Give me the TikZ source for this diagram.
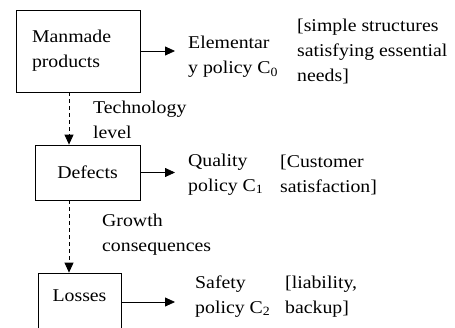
\documentclass[tikz,border=0pt]{standalone}
\usepackage{fontspec}
\setmainfont{Liberation Serif}[FakeStretch=1.1]
\usetikzlibrary{arrows.meta}

\begin{document}
\begin{tikzpicture}[x=1pt,y=-1pt,>={Triangle[length=10pt,width=9pt]},
  box/.style={draw,line width=0.8pt,align=left},
  txt/.style={anchor=west,inner sep=0pt,align=left},
  every node/.style={font=\fontsize{18}{25}\selectfont},
  link/.style={->,line width=0.8pt},
  dashlink/.style={->,line width=0.8pt,dash pattern=on 4pt off 3pt}]

\clip (0,0) rectangle (455,327);

\node[box, minimum height=82pt, inner xsep=16pt, text width=92pt] (manmade) at (78,51) {Manmade\\products};
\node[box, minimum width=105pt, minimum height=55pt] (defects) at (87.5,172.5) {Defects};
\node[box, minimum width=83pt, minimum height=58pt, text depth=12pt] (losses) at (79.5,302) {Losses};
\coordinate (axis) at (69,0);

\node[txt] (elem) at (188,57) {Elementar\\y policy C\textsubscript{0}};
\node[txt] (needs) at (297,51) {[simple structures\\satisfying essential\\needs]};
\node[txt] (quality) at (188,174.5) {Quality\\policy C\textsubscript{1}};
\node[txt] (customer) at (280,174.5) {[Customer\\satisfaction]};
\node[txt] (safety) at (195,296.5) {Safety\\policy C\textsubscript{2}};
\node[txt] (liability) at (285,296.5) {[liability,\\backup]};

\node[txt] (techlevel) at (93,119.5) {Technology\\level};
\node[txt] (growth) at (102,234.5) {Growth\\consequences};


\draw[link, shorten >=13pt] (manmade.east) -- (manmade.east -| elem.west);
\draw[link, shorten >=13pt] (defects.east) -- (defects.east -| quality.west);
\draw[link, shorten >=20pt] (losses.east) -- (losses.east -| safety.west);


\draw[dashlink] (manmade.south -| axis) -- (defects.north -| axis);
\draw[dashlink] (defects.south -| axis) -- (losses.north -| axis);

\end{tikzpicture}
\end{document}
